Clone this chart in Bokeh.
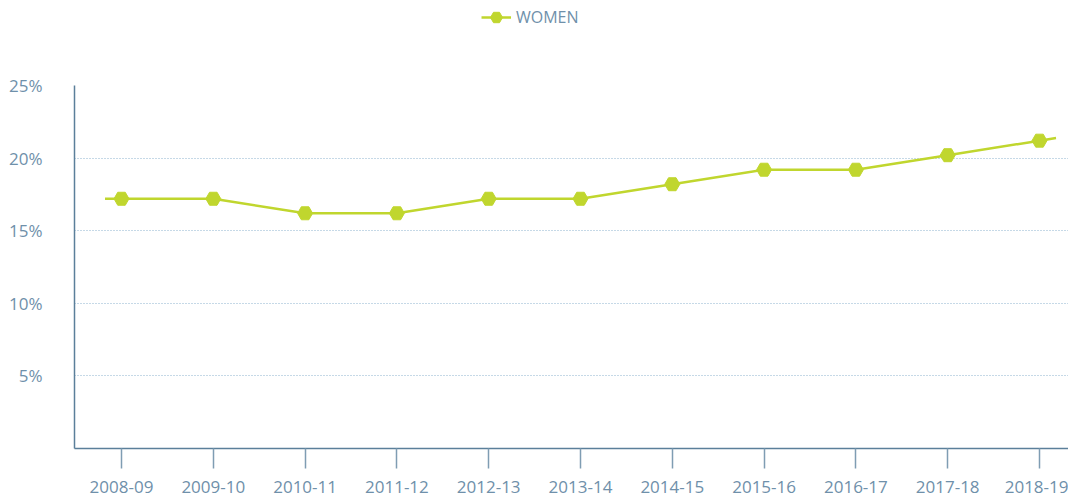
from bokeh.plotting import figure
from bokeh.models import FixedTicker, Legend, LegendItem, Range1d
from bokeh.layouts import column
from bokeh.embed import file_html
from bokeh.resources import INLINE

seasons = ["2008-09", "2009-10", "2010-11", "2011-12", "2012-13", "2013-14",
           "2014-15", "2015-16", "2016-17", "2017-18", "2018-19"]
women = [17.2, 17.2, 16.2, 16.2, 17.2, 17.2, 18.2, 19.2, 19.2, 20.2, 21.2]
y_ticks = [5, 10, 15, 20, 25]

LIME = "#c0d62e"
SLATE = "#5b7f9a"
TEXT = "#6f90aa"
GRID = "#8db3cf"
FONT = "Open Sans"

xs = list(range(len(seasons)))
EXT = 0.18
line_x = [xs[0] - EXT] + xs + [xs[-1] + EXT]
line_y = ([women[0] - (women[1] - women[0]) * EXT] + women +
          [women[-1] + (women[-1] - women[-2]) * EXT])

# ---- legend strip (its sample glyphs sit outside the visible range) ----
lg = figure(width=1068, height=34, output_backend="svg", toolbar_location=None,
            x_range=Range1d(0, 1), y_range=Range1d(0, 1),
            min_border=0)
lg.outline_line_color = None
lg.axis.visible = False
lg.grid.visible = False
l_line = lg.line([5, 6], [5, 5], line_color=LIME, line_width=2.5)
l_mark = lg.scatter([5], [5], marker="hex", size=15, fill_color=LIME, line_color=LIME)
legend = Legend(items=[LegendItem(label="WOMEN", renderers=[l_line, l_mark])],
                orientation="horizontal", location=(407, 0),
                label_text_color=TEXT, label_text_font=FONT,
                label_text_font_size="16px", border_line_color=None,
                background_fill_alpha=0, glyph_width=30, glyph_height=34,
                label_standoff=5, padding=0, margin=0, spacing=0)
lg.add_layout(legend, "center")

# ---- main chart ----
p = figure(frame_width=994, frame_height=363, output_backend="svg",
           toolbar_location=None,
           x_range=Range1d(-0.512, 10.316), y_range=Range1d(0, 25),
           min_border_left=74, min_border_right=0, min_border_top=51,
           min_border_bottom=54)
p.outline_line_color = None
p.background_fill_color = "white"

p.line(line_x, line_y, line_color=LIME, line_width=2.5)
p.scatter(xs, women, marker="hex", size=15, fill_color=LIME, line_color=LIME)

p.xaxis.ticker = FixedTicker(ticks=xs)
p.xaxis.major_label_overrides = {i: s for i, s in enumerate(seasons)}
p.xaxis.axis_line_color = SLATE
p.xaxis.axis_line_width = 1.5
p.xaxis.major_tick_line_color = "#7f9db3"
p.xaxis.major_tick_line_width = 1.5
p.xaxis.major_tick_out = 20
p.xaxis.major_tick_in = 0
p.xaxis.minor_tick_line_color = None
p.xaxis.major_label_standoff = 12
p.xaxis.major_label_text_color = TEXT
p.xaxis.major_label_text_font = FONT
p.xaxis.major_label_text_font_size = "17px"

p.yaxis.ticker = FixedTicker(ticks=y_ticks)
p.yaxis.major_label_overrides = {t: f"{t}%" for t in y_ticks}
p.yaxis.axis_line_color = SLATE
p.yaxis.axis_line_width = 1.5
p.yaxis.major_tick_line_color = None
p.yaxis.minor_tick_line_color = None
p.yaxis.major_label_standoff = 26
p.yaxis.major_label_text_color = TEXT
p.yaxis.major_label_text_font = FONT
p.yaxis.major_label_text_font_size = "17px"

p.xgrid.grid_line_color = None
p.ygrid.grid_line_color = GRID
p.ygrid.grid_line_dash = "1 2"
p.ygrid.grid_line_width = 1

layout = column(lg, p, spacing=0)
open("out.html", "w").write(file_html(layout, INLINE))
